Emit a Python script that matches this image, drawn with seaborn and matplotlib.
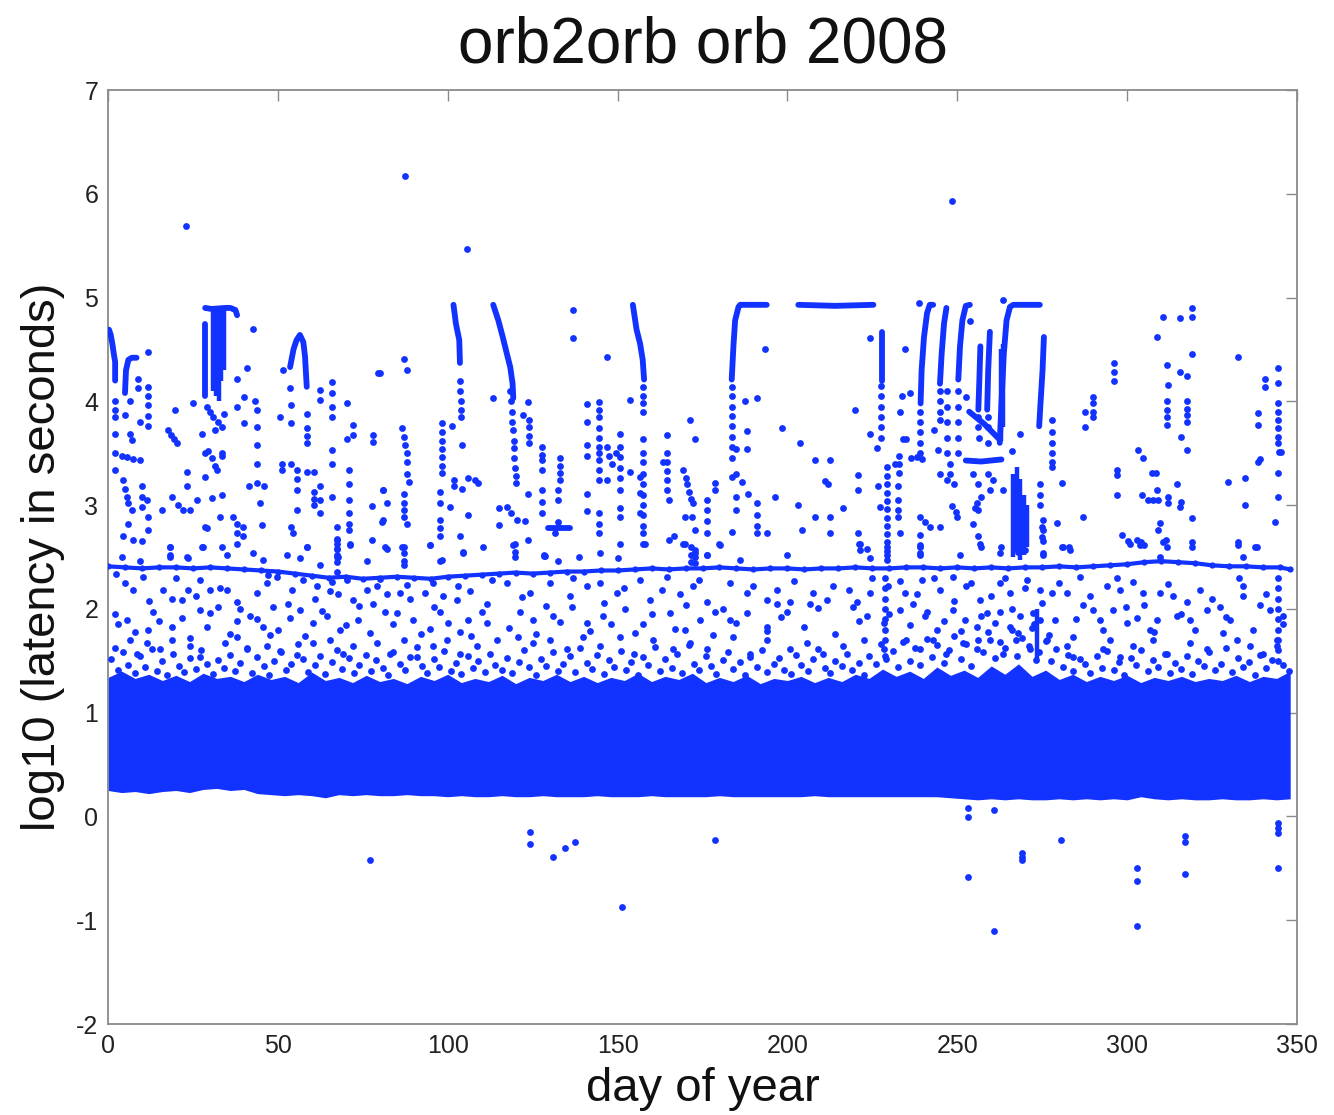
import numpy as np
import pandas as pd
import matplotlib
matplotlib.use("Agg")
import matplotlib.pyplot as plt
import seaborn as sns

# ---------------- data ----------------
title_text = "orb2orb orb 2008"
x_label = "day of year"
y_label = "log10 (latency in seconds)"
x_ticks = [0, 50, 100, 150, 200, 250, 300, 350]
y_ticks = [-2, -1, 0, 1, 2, 3, 4, 5, 6, 7]

# dense band (lower / upper envelope, every 4 days)
band_days = list(range(0, 349, 4))
band_low = [0.25, 0.23, 0.24, 0.22, 0.24, 0.25, 0.23, 0.26, 0.27, 0.25, 0.26, 0.22,
            0.21, 0.20, 0.21, 0.20, 0.18, 0.21, 0.20, 0.21, 0.20, 0.20, 0.21, 0.20, 0.20,
            0.19, 0.20, 0.19, 0.19, 0.20, 0.19, 0.19, 0.20, 0.19, 0.19, 0.19, 0.20, 0.19,
            0.19, 0.19, 0.20, 0.19, 0.19, 0.19, 0.19, 0.20, 0.19, 0.19, 0.19, 0.19, 0.19,
            0.19, 0.20, 0.19, 0.19, 0.19, 0.19, 0.19, 0.19, 0.19, 0.19, 0.19, 0.18,
            0.17, 0.16, 0.17, 0.16, 0.17, 0.16, 0.16, 0.17, 0.16, 0.17, 0.16, 0.17, 0.16,
            0.19, 0.17, 0.16, 0.17, 0.16, 0.16, 0.17, 0.16, 0.16, 0.17, 0.16, 0.17]
band_high = [1.34, 1.40, 1.33, 1.37, 1.31, 1.36, 1.30, 1.38, 1.33, 1.35,
             1.30, 1.37, 1.32, 1.35, 1.29, 1.39, 1.31, 1.34, 1.29, 1.36,
             1.30, 1.33, 1.28, 1.35, 1.31, 1.37, 1.29, 1.33, 1.30, 1.36,
             1.28, 1.34, 1.31, 1.37, 1.30, 1.35, 1.29, 1.34, 1.31, 1.38,
             1.30, 1.35, 1.32, 1.38, 1.29, 1.34, 1.30, 1.36, 1.28, 1.33,
             1.31, 1.35, 1.29, 1.34, 1.30, 1.37, 1.33, 1.42, 1.35, 1.40,
             1.33, 1.44, 1.36, 1.41, 1.34, 1.45, 1.37, 1.47, 1.35, 1.41,
             1.32, 1.37, 1.30, 1.35, 1.31, 1.36, 1.29, 1.34, 1.31, 1.35,
             1.30, 1.33, 1.31, 1.36, 1.30, 1.35, 1.33, 1.40]

# the ~2.4 chain of points
line24_day = list(range(0, 346, 5)) + [348]
line24_val = [2.41, 2.40, 2.39, 2.40, 2.40, 2.39, 2.40, 2.39, 2.38,
              2.37, 2.36, 2.34, 2.32,
              2.30, 2.31, 2.29, 2.30, 2.31, 2.30, 2.29, 2.31,
              2.32, 2.33, 2.34, 2.35, 2.34, 2.35, 2.36, 2.36, 2.37, 2.37,
              2.38, 2.39, 2.38, 2.39, 2.39, 2.40, 2.39, 2.38, 2.39, 2.39, 2.38, 2.39, 2.39, 2.40, 2.39, 2.39,
              2.40, 2.40, 2.39, 2.40, 2.39, 2.40, 2.39, 2.40, 2.40, 2.41, 2.40, 2.41, 2.42,
              2.43, 2.45, 2.46, 2.45, 2.44, 2.42, 2.41, 2.41, 2.40, 2.40,
              2.38]

# sparse points just above the band (day, log10 latency)
low_a = [(4.0, 2.50), (9.4, 2.46), (18.3, 2.60), (18.3, 2.52), (23.6, 2.49), (27.6, 2.60), (35.0, 2.52),
         (42.8, 2.54), (45.7, 2.47), (52.6, 2.52), (56.5, 2.49), (58.5, 2.60), (62.4, 2.42), (67.3, 2.63),
         (67.8, 2.50), (71.2, 2.62), (76.2, 2.46), (82.0, 2.58), (87.0, 2.60), (87.0, 2.42), (94.8, 2.62),
         (97.7, 2.46), (104.6, 2.54), (110.5, 2.60),
         (2.5, 2.34), (7.5, 2.18), (10.4, 2.31), (16.3, 2.18), (18.7, 2.10), (21.7, 2.09), (23.6, 2.18),
         (27.1, 2.28), (30.0, 2.18), (35.0, 2.18), (37.9, 2.07), (43.8, 2.15), (46.7, 2.25), (49.7, 2.31),
         (54.1, 2.18), (57.5, 2.28), (61.4, 2.22), (65.4, 2.17), (67.8, 2.14), (70.3, 2.28), (72.2, 2.09),
         (76.2, 2.18), (79.1, 2.22), (82.0, 2.14), (86.0, 2.15), (88.0, 2.23), (93.3, 2.15), (95.8, 2.25),
         (98.7, 2.12), (102.6, 2.09), (106.6, 2.17), (111.5, 2.05),
         (3.0, 1.85), (5.5, 1.89), (11.9, 1.80), (13.3, 1.97), (18.7, 1.83), (21.7, 1.91), (27.1, 1.99),
         (30.0, 1.96), (32.5, 2.02), (37.9, 1.88), (41.8, 1.93), (45.7, 1.83), (47.7, 1.75), (48.7, 2.02),
         (53.6, 1.91), (56.5, 1.99), (60.4, 1.86), (64.4, 1.93), (68.3, 1.80), (73.7, 1.89), (78.1, 2.05),
         (81.5, 1.97), (84.0, 1.85), (89.9, 1.89), (94.8, 1.81), (97.7, 1.97), (103.6, 1.78), (106.1, 1.89),
         (111.5, 1.86),
         (2.1, 1.62), (6.5, 1.70), (8.4, 1.57), (11.4, 1.67), (15.3, 1.61), (18.7, 1.70), (24.1, 1.64),
         (27.1, 1.54), (34.4, 1.67), (37.9, 1.73), (40.8, 1.61), (46.7, 1.64), (50.6, 1.59), (55.5, 1.56),
         (60.4, 1.67), (65.4, 1.70), (69.3, 1.57), (72.2, 1.64), (79.1, 1.67), (83.0, 1.57), (87.0, 1.70),
         (90.9, 1.54), (95.8, 1.64), (99.7, 1.70), (103.6, 1.57), (108.5, 1.64), (114.4, 1.70),
         (67.5, 2.66), (67.5, 2.58), (67.5, 2.52), (67.5, 2.45), (67.5, 2.36)]

low_b = [(119.3, 2.62), (128.2, 2.52), (138.5, 2.50), (144.8, 2.54), (150.2, 2.49), (158.1, 2.63),
         (169.4, 2.63), (172.8, 2.54), (176.2, 2.52), (180.2, 2.62), (186.1, 2.47), (199.8, 2.52),
         (221.4, 2.63), (223.4, 2.58), (229.2, 2.60), (229.2, 2.52),
         (117.4, 2.25), (124.2, 2.15), (130.1, 2.25), (136.0, 2.12), (140.9, 2.22), (144.8, 2.25),
         (149.7, 2.15), (156.6, 2.28), (159.6, 2.09), (164.5, 2.31), (168.4, 2.14), (172.3, 2.22),
         (176.2, 2.07), (183.1, 2.25), (188.0, 2.15), (193.9, 2.09), (196.9, 2.18), (200.8, 2.07),
         (207.6, 2.15), (213.5, 2.22), (220.4, 2.07), (224.3, 2.15), (229.7, 2.22),
         (121.3, 1.97), (125.2, 1.89), (131.1, 1.93), (136.5, 2.02), (140.9, 1.86), (145.8, 1.93),
         (152.2, 2.00), (157.6, 1.85), (165.4, 1.96), (169.9, 1.80), (174.3, 1.89), (178.7, 1.97),
         (183.1, 1.89), (188.0, 1.96), (193.9, 1.83), (196.9, 2.05), (199.8, 1.97), (206.7, 2.05),
         (211.6, 2.09), (219.4, 2.02), (223.4, 1.93), (228.3, 1.86),
         (120.8, 1.73), (125.2, 1.67), (130.1, 1.70), (135.0, 1.61), (139.9, 1.73), (144.8, 1.64),
         (150.7, 1.73), (154.7, 1.57), (160.5, 1.70), (166.4, 1.61), (171.3, 1.67), (176.2, 1.61),
         (184.1, 1.73), (189.0, 1.57), (193.9, 1.70), (200.8, 1.61), (205.7, 1.67), (210.6, 1.57),
         (216.5, 1.64), (222.4, 1.70), (228.3, 1.61),
         (171.5, 2.60), (171.5, 2.52), (171.5, 2.45), (228.6, 2.30), (228.6, 2.20), (228.6, 2.10),
         (228.6, 2.00), (228.6, 1.90), (228.6, 1.80), (228.6, 1.70), (228.6, 1.55)]

low_c = [(239.0, 2.60), (239.0, 2.52), (250.8, 2.52), (256.7, 2.63), (262.5, 2.54), (267.9, 2.63),
         (267.9, 2.55), (269.9, 2.57), (275.3, 2.52), (280.7, 2.60), (283.1, 2.57), (300.8, 2.63),
         (303.8, 2.62), (309.6, 2.50), (311.6, 2.60), (319.0, 2.60), (332.7, 2.62), (338.1, 2.60),
         (334.2, 2.50),
         (234.6, 2.15), (239.5, 2.28), (244.9, 2.18), (248.8, 2.31), (252.7, 2.22), (256.7, 2.09),
         (262.5, 2.25), (265.5, 2.15), (270.4, 2.28), (274.3, 2.18), (277.8, 2.15), (282.2, 2.15),
         (286.1, 2.31), (294.0, 2.22), (297.9, 2.18), (301.8, 2.26), (304.7, 2.15), (309.6, 2.15),
         (313.6, 2.12), (317.5, 2.07), (321.4, 2.18), (334.2, 2.22), (334.2, 2.12),
         (233.1, 1.99), (237.0, 2.05), (240.5, 1.93), (243.9, 1.80), (248.8, 1.99), (252.2, 1.89),
         (255.7, 1.83), (258.6, 1.96), (262.5, 1.97), (265.5, 1.83), (268.4, 1.93), (272.4, 1.96),
         (274.3, 1.89), (278.7, 1.89), (284.1, 1.73), (287.1, 2.04), (290.0, 1.99), (292.0, 1.89),
         (295.9, 1.99), (299.8, 2.02), (302.8, 1.91), (306.7, 1.80), (308.7, 1.89), (314.6, 1.93),
         (318.5, 1.89), (323.4, 1.99), (327.3, 2.02), (330.3, 1.89), (339.1, 2.04), (342.0, 1.99),
         (346.0, 1.93),
         (235.0, 1.70), (239.0, 1.61), (242.9, 1.70), (246.8, 1.57), (251.7, 1.67), (255.7, 1.61),
         (259.6, 1.70), (263.5, 1.57), (267.4, 1.70), (271.4, 1.61), (273.3, 1.51), (276.3, 1.70),
         (282.2, 1.64), (284.1, 1.54), (293.0, 1.61), (294.9, 1.70), (297.9, 1.54), (301.8, 1.64),
         (307.7, 1.70), (311.6, 1.57), (318.5, 1.67), (323.4, 1.61), (328.3, 1.77), (332.2, 1.70),
         (336.1, 1.64), (340.0, 1.57), (344.0, 1.70),
         (344.5, 2.30), (344.5, 2.20), (344.5, 2.10), (344.5, 2.00), (344.5, 1.90), (344.5, 1.80),
         (344.5, 1.70), (344.5, 1.60), (344.5, 1.50)]

# fuzzy fringe on top of the band
fringe = [(1, 1.52), (3, 1.41), (4.5, 1.58), (6, 1.46), (8, 1.38), (9.5, 1.55), (11, 1.44), (13, 1.61),
          (14.5, 1.40), (16, 1.50), (17.5, 1.36), (19, 1.57), (21, 1.45), (22.5, 1.39), (24, 1.53),
          (26, 1.42), (27.5, 1.60), (29, 1.47), (31, 1.37), (32.5, 1.51), (34, 1.43), (36, 1.56),
          (37.5, 1.40), (39, 1.48), (41, 1.62), (42.5, 1.38), (44, 1.54), (46, 1.45), (47.5, 1.36),
          (49, 1.50), (51, 1.58), (52.5, 1.41), (54, 1.47), (56, 1.66), (57.5, 1.52), (59, 1.39),
          (61, 1.46), (62.5, 1.55), (64, 1.37), (66, 1.49), (67.5, 1.60), (69, 1.42), (71, 1.53),
          (72.5, 1.38), (74, 1.46), (76, 1.56), (77.5, 1.40), (79, 1.51), (81, 1.43), (82.5, 1.36),
          (84, 1.58), (86, 1.47), (87.5, 1.41), (89, 1.54), (91, 1.63), (92.5, 1.45), (94, 1.38),
          (96, 1.52), (97.5, 1.44), (99, 1.59), (101, 1.40), (102.5, 1.48), (104, 1.37), (106, 1.55),
          (107.5, 1.43), (109, 1.50), (111, 1.39), (112.5, 1.57), (114, 1.46), (116, 1.41),
          (117.5, 1.53), (119, 1.38), (121, 1.49), (122.5, 1.60), (124, 1.44), (126, 1.36),
          (127.5, 1.52), (129, 1.45), (131, 1.58), (132.5, 1.40), (134, 1.47), (136, 1.55),
          (137.5, 1.39), (139, 1.62), (141, 1.48), (142.5, 1.42), (144, 1.56), (146, 1.37),
          (147.5, 1.51), (149, 1.44), (151, 1.59), (152.5, 1.41), (154, 1.49), (156, 1.36),
          (157.5, 1.54), (159, 1.46), (161, 1.63), (162.5, 1.40), (164, 1.52), (166, 1.43),
          (167.5, 1.57), (169, 1.38), (171, 1.65), (172.5, 1.47), (174, 1.41), (176, 1.55),
          (177.5, 1.45), (179, 1.37), (181, 1.51), (182.5, 1.58), (184, 1.42), (186, 1.49),
          (187.5, 1.36), (189, 1.54), (191, 1.44), (192.5, 1.60), (194, 1.39), (196, 1.47),
          (197.5, 1.53), (199, 1.41), (201, 1.37), (202.5, 1.56), (204, 1.46), (206, 1.40),
          (207.5, 1.52), (209, 1.61), (211, 1.43), (212.5, 1.38), (214, 1.50), (216, 1.45),
          (217.5, 1.57), (219, 1.41), (221, 1.48), (222.5, 1.36), (224, 1.55), (226, 1.47),
          (227.5, 1.66), (229, 1.52), (231, 1.59), (232.5, 1.44), (234, 1.68), (236, 1.50),
          (237.5, 1.62), (239, 1.46), (241, 1.71), (242.5, 1.54), (244, 1.65), (246, 1.48),
          (247.5, 1.60), (249, 1.74), (251, 1.52), (252.5, 1.66), (254, 1.45), (256, 1.70),
          (257.5, 1.58), (259, 1.78), (261, 1.53), (262.5, 1.68), (264, 1.62), (266, 1.80),
          (267.5, 1.55), (269, 1.72), (271, 1.64), (272.5, 1.85), (274, 1.58), (276, 1.69),
          (277.5, 1.50), (279, 1.61), (281, 1.44), (282.5, 1.56), (284, 1.40), (286, 1.52),
          (287.5, 1.47), (289, 1.38), (291, 1.55), (292.5, 1.43), (294, 1.59), (296, 1.41),
          (297.5, 1.49), (299, 1.36), (301, 1.53), (302.5, 1.46), (304, 1.60), (306, 1.40),
          (307.5, 1.51), (309, 1.44), (311, 1.57), (312.5, 1.38), (314, 1.48), (316, 1.42),
          (317.5, 1.55), (319, 1.37), (321, 1.50), (322.5, 1.45), (324, 1.58), (326, 1.41),
          (327.5, 1.47), (329, 1.62), (331, 1.39), (332.5, 1.53), (334, 1.44), (336, 1.49),
          (337.5, 1.36), (339, 1.56), (341, 1.43), (342.5, 1.51), (344, 1.64), (346, 1.46),
          (347.5, 1.40)]

# extra sparse points between the fringe and the 2.4 chain
upper_fringe = [(2, 1.95), (5, 2.25), (8, 1.78), (12, 2.08), (15, 1.88), (20, 2.30), (24, 1.72),
                (26, 2.12), (29, 1.83), (33, 2.20), (36, 1.76), (39, 2.00), (44, 1.90), (47, 2.33),
                (50, 1.80), (53, 2.05), (58, 1.74), (61, 2.10), (63, 1.98), (66, 2.26), (70, 1.84),
                (74, 2.03), (77, 1.77), (80, 2.29), (85, 1.96), (89, 2.10), (92, 1.76), (96, 2.02),
                (100, 1.86), (103, 2.22), (107, 1.74), (110, 1.97), (113, 2.28), (118, 1.82),
                (122, 2.11), (126, 1.76), (129, 2.03), (133, 1.87), (137, 2.30), (142, 1.79),
                (146, 2.06), (148, 1.85), (152, 2.20), (155, 1.77), (160, 1.95), (163, 2.18),
                (167, 1.81), (170, 2.04), (174, 2.28), (178, 1.75), (181, 2.00), (185, 1.86),
                (190, 2.22), (194, 1.79), (198, 1.92), (202, 2.27), (205, 1.83), (209, 2.01),
                (214, 1.76), (218, 2.18), (221, 1.88), (225, 2.30), (230, 1.95), (233, 2.27),
                (236, 1.84), (238, 2.14), (241, 1.97), (243, 2.30), (246, 1.88), (249, 2.08),
                (251, 1.79), (254, 2.25), (257, 1.93), (260, 2.12), (261, 1.86), (264, 2.30),
                (266, 2.00), (268, 1.77), (270, 2.20), (272, 1.82), (275, 2.06), (277, 1.75),
                (280, 2.25), (285, 1.90), (289, 2.12), (293, 1.80), (297, 2.30), (300, 1.86),
                (305, 2.04), (308, 1.78), (312, 2.24), (316, 1.95), (320, 1.80), (325, 2.10),
                (329, 1.92), (333, 2.30), (337, 1.80), (341, 2.14), (346, 1.85)]

# scattered points between ~2.4 and ~5
mid_a = [(11.9, 4.48), (8.9, 4.22), (8.9, 4.13), (11.9, 4.14), (11.9, 4.05), (11.9, 3.96), (11.9, 3.86),
         (11.9, 3.76), (9.4, 3.80), (6.5, 4.00), (5.0, 3.87), (2.1, 4.00), (2.1, 3.92), (2.1, 3.85),
         (2.1, 3.69), (6.5, 3.69), (7.0, 3.63), (2.0, 3.50), (4.0, 3.47), (5.5, 3.46), (7.5, 3.44),
         (9.4, 3.43), (2.0, 3.34), (4.5, 3.24), (5.0, 3.16), (5.5, 3.08), (6.0, 3.02), (7.0, 2.95),
         (6.0, 2.82), (4.5, 2.70), (7.5, 2.66), (10.0, 3.18), (10.0, 3.08), (10.0, 2.98), (11.4, 3.05),
         (11.9, 2.89), (11.9, 2.76), (9.9, 2.65),
         (19.7, 3.92), (17.8, 3.72), (18.5, 3.68), (19.5, 3.64), (20.2, 3.60), (23.2, 3.32), (23.2, 3.18),
         (18.7, 3.08), (20.5, 3.00), (22.2, 2.95), (15.8, 2.95), (18.3, 2.60), (18.3, 2.50), (23.2, 2.50),
         (24.1, 2.95), (26.1, 3.05), (25.1, 3.98),
         (27.6, 3.69), (28.6, 3.50), (28.6, 3.27), (29.5, 3.52), (30.5, 3.45), (31.5, 3.38), (32.0, 3.34),
         (33.5, 3.50), (33.5, 3.47), (30.5, 3.07), (33.5, 3.10), (33.0, 2.89), (28.6, 2.79), (29.2, 2.78),
         (28.0, 2.60), (33.5, 2.60), (36.9, 2.89), (37.9, 2.82), (37.9, 2.73), (39.8, 2.79), (39.8, 2.70),
         (37.9, 2.63), (29.0, 3.95), (30.0, 3.90), (31.0, 3.85), (32.5, 3.80), (33.5, 3.75), (31.5, 3.72),
         (34.0, 3.88),
         (37.9, 4.22), (40.8, 4.32), (37.9, 3.95), (40.0, 4.04), (40.0, 3.79), (42.8, 4.70), (43.3, 4.00),
         (43.8, 3.92), (43.8, 3.75), (43.8, 3.58), (43.8, 3.40), (43.8, 3.21), (41.5, 3.18), (46.0, 3.18),
         (44.8, 3.02), (45.2, 2.81),
         (50.6, 3.85), (51.1, 3.40), (51.1, 3.34), (51.6, 4.30), (53.6, 4.13), (54.0, 3.96), (54.0, 3.79),
         (54.0, 3.40), (55.5, 3.34), (55.5, 3.25), (55.5, 3.15), (54.0, 2.79), (54.5, 2.73), (55.5, 2.95),
         (58.5, 3.88), (58.5, 3.74), (58.5, 3.67), (58.5, 3.60), (58.5, 3.32), (58.5, 2.60), (60.5, 3.32),
         (60.5, 3.13), (60.5, 3.06), (60.5, 3.00), (62.4, 4.11), (62.4, 4.01), (62.4, 3.18), (62.4, 3.05),
         (62.4, 2.92),
         (65.8, 4.19), (65.8, 4.08), (65.8, 3.95), (65.8, 3.85), (65.8, 3.53), (65.8, 3.40), (65.8, 3.08),
         (67.3, 2.79), (67.3, 2.67), (67.3, 2.58), (67.3, 2.50), (70.3, 3.98), (70.8, 3.34), (70.8, 3.20),
         (70.8, 3.05), (70.8, 2.92), (70.8, 2.82), (70.8, 2.76), (72.2, 3.77), (72.2, 3.68), (70.3, 3.64),
         (71.2, 2.63), (78.1, 3.68), (78.1, 3.61), (77.6, 2.99), (79.6, 4.27), (81.0, 3.15), (80.6, 2.84),
         (77.6, 2.66)]

mid_b = [(80.1, 4.27), (87.0, 4.41), (88.0, 4.30), (86.5, 3.74), (87.0, 3.66), (87.5, 3.58), (88.0, 3.50),
         (88.0, 3.42), (81.0, 3.15), (82.0, 3.02), (81.0, 2.86), (81.5, 2.60), (86.5, 2.60), (87.0, 3.11),
         (87.0, 3.02), (87.0, 2.95), (87.0, 2.89), (88.0, 2.82), (87.0, 2.54), (87.0, 2.46), (88.0, 3.30),
         (88.5, 3.22),
         (98.2, 3.79), (98.2, 3.70), (98.2, 3.62), (98.2, 3.54), (98.2, 3.46), (98.2, 3.38), (98.2, 3.31),
         (97.7, 3.13), (97.7, 3.02), (97.7, 2.86), (97.7, 2.78), (97.7, 2.70), (101.2, 3.76), (101.8, 3.24),
         (101.8, 3.18), (104.1, 3.58), (104.1, 3.16), (103.6, 2.70), (106.0, 3.26), (108.0, 3.24),
         (109.0, 3.21), (106.0, 2.90), (100.7, 2.98), (98.2, 2.47), (103.5, 4.20), (103.5, 4.10),
         (103.8, 4.00), (104.0, 3.92), (104.0, 3.85), (113.4, 4.03), (115.0, 2.97), (115.0, 2.81),
         (104.6, 2.55), (94.8, 2.62)]

mid_c = [(118.4, 4.10), (118.6, 4.00), (118.8, 3.90), (119.0, 3.80), (119.2, 3.72), (119.4, 3.62),
         (119.4, 3.55), (119.6, 3.45), (119.8, 3.36), (120.0, 3.28), (120.2, 3.21),
         (123.7, 3.99), (124.0, 3.82), (124.0, 3.75), (124.0, 3.67), (124.0, 3.60), (122.3, 3.87),
         (117.4, 2.98), (118.5, 2.92), (120.3, 2.86), (122.8, 2.85), (123.7, 2.66), (123.7, 3.11),
         (119.8, 2.63), (119.8, 2.55), (119.8, 2.50),
         (127.7, 3.56), (127.7, 3.48), (127.7, 3.43), (127.7, 3.34), (127.7, 3.15), (127.7, 3.03),
         (127.7, 2.92), (133.0, 3.45), (133.0, 3.38), (133.0, 3.31), (133.0, 3.24), (132.6, 3.15),
         (132.6, 3.05), (132.6, 2.84), (131.6, 2.73), (128.2, 2.51), (128.7, 2.51), (132.6, 2.46),
         (137.0, 4.88), (137.0, 4.61), (140.9, 3.97), (140.9, 3.80), (140.9, 3.58), (140.9, 3.47),
         (140.9, 3.11), (140.9, 2.94),
         (144.4, 3.99), (144.4, 3.92), (144.4, 3.85), (144.4, 3.74), (144.4, 3.65), (144.4, 3.56),
         (144.4, 3.50), (144.4, 3.43), (144.4, 3.34), (144.4, 3.24), (144.4, 2.92), (144.4, 2.82),
         (144.4, 2.73), (146.8, 4.43),
         (146.8, 3.56), (147.5, 3.47), (148.5, 3.40), (149.5, 3.50), (150.7, 3.56), (150.7, 3.46),
         (150.7, 3.36), (150.7, 3.26), (150.7, 3.15), (147.0, 3.24), (150.7, 3.69), (150.7, 2.97),
         (150.7, 2.89), (150.7, 2.63), (153.7, 4.01), (153.7, 3.32),
         (157.6, 4.14), (157.6, 4.05), (157.6, 3.98), (157.6, 3.90), (157.6, 3.64), (157.6, 3.50),
         (157.6, 3.42), (157.6, 3.30), (157.6, 3.20), (157.6, 3.10), (157.6, 3.00), (157.6, 2.90),
         (157.6, 2.80), (157.6, 2.73), (157.6, 2.63), (156.6, 3.27), (156.6, 3.12), (156.6, 2.92),
         (164.5, 3.68), (164.5, 3.50), (164.5, 3.42), (164.5, 3.33), (164.5, 3.24), (164.5, 3.15),
         (165.0, 3.05), (163.5, 3.42), (165.0, 2.66), (166.5, 2.70),
         (169.4, 3.34), (170.0, 3.26), (170.5, 3.20), (171.0, 3.13), (171.5, 3.06), (172.3, 3.02),
         (171.3, 3.82), (172.8, 3.64), (169.9, 2.89), (171.8, 2.89), (172.8, 2.76), (169.9, 2.63),
         (172.8, 2.57), (172.8, 2.50), (172.8, 2.44),
         (176.2, 3.05), (176.2, 2.95), (176.2, 2.85), (176.2, 2.73), (176.2, 2.52), (178.7, 3.21),
         (178.7, 3.15), (180.0, 2.63),
         (183.6, 4.14), (183.6, 4.05), (183.6, 3.95), (183.6, 3.86), (183.6, 3.76), (183.6, 3.66),
         (183.6, 3.56), (183.6, 3.45), (183.6, 3.27), (183.6, 2.74), (185.0, 3.54), (188.0, 3.54),
         (185.0, 3.30), (186.5, 3.22), (188.5, 3.11), (188.0, 3.71), (187.5, 4.00), (191.0, 4.03),
         (185.0, 3.08), (185.0, 2.95), (191.0, 3.02), (191.0, 2.90), (191.0, 2.80), (191.0, 2.73),
         (193.9, 2.73), (193.4, 4.50),
         (196.4, 3.08), (198.3, 3.74), (203.7, 3.60), (203.2, 3.00), (204.2, 2.76), (208.1, 3.43),
         (208.1, 2.89), (211.2, 3.23), (211.8, 3.20), (212.5, 3.43), (212.5, 2.89), (212.5, 2.73),
         (216.5, 2.97), (220.0, 3.92), (220.9, 3.29), (220.9, 3.15), (220.9, 2.73), (221.0, 2.63),
         (221.5, 2.57), (224.3, 2.49), (224.3, 3.69), (226.3, 3.55), (226.8, 3.18), (227.3, 2.98),
         (224.3, 4.61),
         (227.5, 4.15), (227.5, 4.05), (227.5, 3.95), (227.5, 3.85), (227.5, 3.75), (227.5, 3.65),
         (229.2, 3.37), (229.2, 3.28), (229.2, 3.20), (229.2, 3.12), (229.2, 3.04), (229.2, 2.96),
         (229.2, 2.88), (229.2, 2.80), (229.2, 2.72), (229.2, 2.64), (229.2, 2.56), (229.2, 2.47),
         (232.7, 3.47), (232.7, 3.40), (232.7, 3.31), (232.6, 3.18), (232.6, 3.05), (232.6, 2.95),
         (232.6, 2.89), (233.1, 2.73)]

mid_d = [(234.6, 4.50), (233.6, 4.05), (236.0, 4.08), (233.1, 3.90), (234.0, 3.64), (235.0, 3.64),
         (231.6, 3.40), (236.5, 3.45), (238.0, 3.46), (239.5, 3.44),
         (239.0, 3.90), (239.0, 3.80), (239.0, 3.70), (239.0, 3.60), (239.0, 3.50), (239.0, 2.89),
         (240.5, 2.84), (239.0, 2.71), (239.0, 2.62), (239.0, 2.54), (242.0, 2.79), (245.0, 2.79),
         (243.0, 3.72), (244.4, 3.53), (245.0, 3.30), (247.0, 3.24),
         (244.9, 4.10), (244.9, 4.00), (244.9, 3.90), (244.9, 3.82), (238.6, 4.95),
         (247.0, 4.10), (247.0, 3.95), (247.0, 3.80), (247.0, 3.65), (247.0, 3.50), (248.0, 3.40),
         (248.0, 3.30), (249.0, 3.20), (250.3, 4.10), (250.3, 3.95), (250.3, 3.80), (250.3, 3.65),
         (250.3, 3.50), (248.5, 2.99), (249.5, 2.93), (250.0, 2.89), (252.7, 4.04), (253.8, 4.77),
         (255.7, 3.02), (256.0, 2.95), (255.3, 2.97), (254.5, 3.30), (256.0, 3.20), (257.0, 3.08),
         (254.5, 2.82), (256.0, 2.70), (257.0, 2.60), (260.5, 3.24), (263.5, 3.15), (263.0, 2.60),
         (256.2, 3.85), (256.2, 3.75), (256.5, 3.65), (259.0, 3.85), (259.0, 3.75), (259.0, 3.60),
         (259.0, 3.30), (259.5, 3.15),
         (266.0, 3.52), (268.4, 3.69), (274.3, 3.20), (274.3, 3.10), (274.3, 3.00), (275.3, 2.86),
         (275.3, 2.76), (275.3, 2.65), (275.3, 2.54), (277.8, 3.82), (277.8, 3.70), (277.8, 3.60),
         (277.8, 3.50), (277.8, 3.42), (277.8, 3.37), (274.9, 2.79), (274.9, 2.69), (279.3, 2.83),
         (280.8, 3.21), (281.0, 2.60), (283.0, 2.60), (263.5, 4.98)]

mid_e = [(310.6, 4.81), (315.6, 4.80), (319.0, 4.90), (319.0, 4.81), (308.8, 4.62), (319.0, 4.46),
         (311.7, 4.35), (312.0, 4.16), (315.6, 4.28), (317.6, 4.24), (311.7, 4.00), (311.7, 3.92),
         (311.7, 3.85), (311.7, 3.77), (317.6, 4.00), (317.6, 3.93), (317.6, 3.87), (317.6, 3.80),
         (316.0, 3.66), (317.6, 3.53), (332.6, 4.43), (340.6, 4.22), (340.6, 4.14), (344.4, 4.32),
         (344.4, 4.18), (344.4, 3.98), (344.4, 3.90), (344.4, 3.82), (344.4, 3.74), (344.4, 3.66),
         (344.4, 3.60), (344.8, 3.51), (345.2, 3.51), (344.4, 3.31), (344.4, 3.08), (343.5, 2.84),
         (338.5, 3.89), (338.5, 3.77), (338.5, 3.42), (339.0, 3.44), (334.7, 3.26), (329.7, 3.22),
         (334.7, 3.00), (332.6, 2.64), (337.6, 2.60),
         (296.0, 4.37), (296.0, 4.28), (296.0, 4.20), (290.0, 4.04), (290.0, 3.98), (290.0, 3.90),
         (290.0, 3.85), (287.6, 3.90), (287.6, 3.75), (303.2, 3.53), (304.7, 3.45), (307.3, 3.31),
         (308.5, 3.31), (297.0, 3.34), (297.0, 3.29), (297.0, 3.10), (304.4, 3.10), (308.8, 3.15),
         (306.0, 3.05), (307.5, 3.05), (309.0, 3.05), (311.9, 3.08), (311.9, 3.02), (314.7, 3.20),
         (316.0, 3.03), (315.6, 2.98), (309.7, 2.83), (309.2, 2.76), (310.5, 2.64), (311.5, 2.66),
         (319.0, 2.88), (319.0, 2.64), (298.5, 2.71), (300.3, 2.65), (303.0, 2.66), (304.0, 2.64),
         (305.0, 2.62), (287.0, 2.89)]

high_outliers = [(23.0, 5.69), (87.4, 6.17), (105.7, 5.47), (248.5, 5.93)]

below_zero = [(77.1, -0.42), (124.2, -0.15), (124.2, -0.27), (131.0, -0.39), (134.5, -0.30),
              (137.5, -0.25), (151.3, -0.87), (178.7, -0.23), (253.2, 0.08), (253.2, -0.01),
              (253.2, -0.58), (260.8, 0.06), (260.8, -1.10), (269.0, -0.35), (269.0, -0.39),
              (269.0, -0.42), (280.5, -0.23), (302.9, -0.50), (302.9, -0.62), (302.9, -1.06),
              (317.0, -0.19), (317.0, -0.25), (317.0, -0.55), (344.4, -0.06), (344.4, -0.11),
              (344.4, -0.16), (344.4, -0.50)]

# continuous runs of points (arcs / plateaus), each a list of (day, value)
arcs = {
    "a01": [(0.3, 4.69), (0.8, 4.64), (1.3, 4.55), (1.7, 4.46), (2.1, 4.38), (2.1, 4.20)],
    "a02": [(5.0, 4.08), (5.3, 4.30), (6.0, 4.40), (7.0, 4.42), (8.4, 4.42)],
    "a03": [(28.6, 4.05), (28.6, 4.75)],
    "a03t": [(28.6, 4.90), (30.5, 4.89), (34.5, 4.90), (36.0, 4.90), (37.5, 4.88), (38.0, 4.83)],
    "a04": [(53.6, 4.33), (54.6, 4.50), (55.5, 4.59), (56.5, 4.64), (57.5, 4.57), (58.0, 4.43), (58.5, 4.14)],
    "a05": [(101.7, 4.93), (102.4, 4.75), (103.4, 4.59), (103.6, 4.37)],
    "a06": [(113.4, 4.93), (114.9, 4.78), (116.2, 4.62), (117.4, 4.46), (118.4, 4.33), (119.1, 4.17), (119.3, 4.03)],
    "a07": [(154.5, 4.93), (155.6, 4.69), (156.6, 4.56), (157.4, 4.40), (157.8, 4.21)],
    "a08": [(183.6, 4.21), (184.1, 4.53), (184.6, 4.78), (185.6, 4.91), (186.1, 4.93), (193.9, 4.93)],
    "a09": [(203.2, 4.93), (214.0, 4.92), (225.3, 4.93)],
    "a10": [(227.8, 4.67), (227.8, 4.20)],
    "aA": [(239.2, 3.98), (239.5, 4.30), (240.2, 4.62), (241.1, 4.85), (241.9, 4.93), (242.9, 4.93)],
    "aB": [(244.9, 4.17), (245.4, 4.46), (246.1, 4.75), (246.8, 4.90)],
    "aC": [(250.3, 4.21), (250.8, 4.53), (251.5, 4.78), (252.5, 4.92), (253.7, 4.93)],
    "aD": [(256.2, 3.92), (256.5, 4.21), (256.8, 4.53)],
    "aE": [(258.8, 3.92), (259.1, 4.30), (259.6, 4.67)],
    "aF": [(262.5, 3.60), (263.0, 3.98), (263.7, 4.46), (264.5, 4.78), (265.5, 4.91), (266.5, 4.93), (274.3, 4.93)],
    "aG": [(274.1, 3.76), (274.5, 3.98), (275.1, 4.30), (275.5, 4.62)],
    "diag": [(253.5, 3.90), (258.0, 3.78), (262.5, 3.63)],
    "blob342": [(252.5, 3.43), (257.0, 3.42), (263.0, 3.44)],
    "seg277": [(129.6, 2.78), (136.0, 2.78)],
}

# dense vertical blocks of points: day, lowest, highest
block_day = [31.0, 31.8, 32.6, 33.4, 34.2, 262.8, 263.4, 266.5, 267.5, 268.5, 269.5, 270.5, 273.5]
block_lo = [4.10, 4.05, 4.00, 4.20, 4.30, 3.62, 3.75, 2.50, 2.55, 2.47, 2.52, 2.60, 1.50]
block_hi = [4.88, 4.90, 4.90, 4.90, 4.88, 4.50, 4.55, 3.30, 3.37, 3.25, 3.10, 3.00, 2.00]

# ---------------- styling ----------------
BLUE = "#1232ff"
SPINE = "#8a8a8a"

sns.set_style("white")
plt.rcParams["font.family"] = ["Liberation Sans", "DejaVu Sans"]

fig = plt.figure(figsize=(13.34, 11.15), dpi=100)
ax = fig.add_axes([108 / 1334, 91 / 1115, (1297 - 108) / 1334, (1024 - 90) / 1115])

# dense band
ax.fill_between(band_days, band_low, band_high, color=BLUE, linewidth=0, zorder=2)

# points
pts = (low_a + low_b + low_c + fringe + upper_fringe + mid_a + mid_b + mid_c + mid_d + mid_e
       + high_outliers + below_zero)
df = pd.DataFrame(pts, columns=["day", "latency"])
sns.scatterplot(data=df, x="day", y="latency", s=24, color=BLUE, linewidth=0,
                ax=ax, legend=False, zorder=3)

# chain at ~2.4
ax.plot(line24_day, line24_val, color=BLUE, lw=3.0, marker="o", ms=4.5, mew=0, zorder=3)

# arcs and plateaus
for key, run in arcs.items():
    d = pd.DataFrame(run, columns=["day", "latency"])
    ax.plot(d["day"], d["latency"], color=BLUE, lw=4.2, solid_capstyle="round", zorder=3)

ax.vlines(block_day, block_lo, block_hi, color=BLUE, lw=3.2, zorder=3)

# axes
ax.set_xlim(0, 350)
ax.set_ylim(-2, 7)
ax.set_xticks(x_ticks)
ax.set_yticks(y_ticks)
ax.set_xticklabels([str(t) for t in x_ticks])
ax.set_yticklabels([str(t) for t in y_ticks])
ax.tick_params(direction="in", length=8, width=1.0, color=SPINE, labelsize=18,
               labelcolor="#222222", top=True, right=True, pad=7)
for s in ax.spines.values():
    s.set_visible(True)
    s.set_color(SPINE)
    s.set_linewidth(1.3)
ax.set_title(title_text, fontsize=46, pad=20, color="#111111")
ax.set_xlabel(x_label, fontsize=34, labelpad=7, color="#111111")
ax.set_ylabel(y_label, fontsize=34, labelpad=8, color="#111111")
ax.grid(False)

fig.savefig("out.png", dpi=100, facecolor="white")
